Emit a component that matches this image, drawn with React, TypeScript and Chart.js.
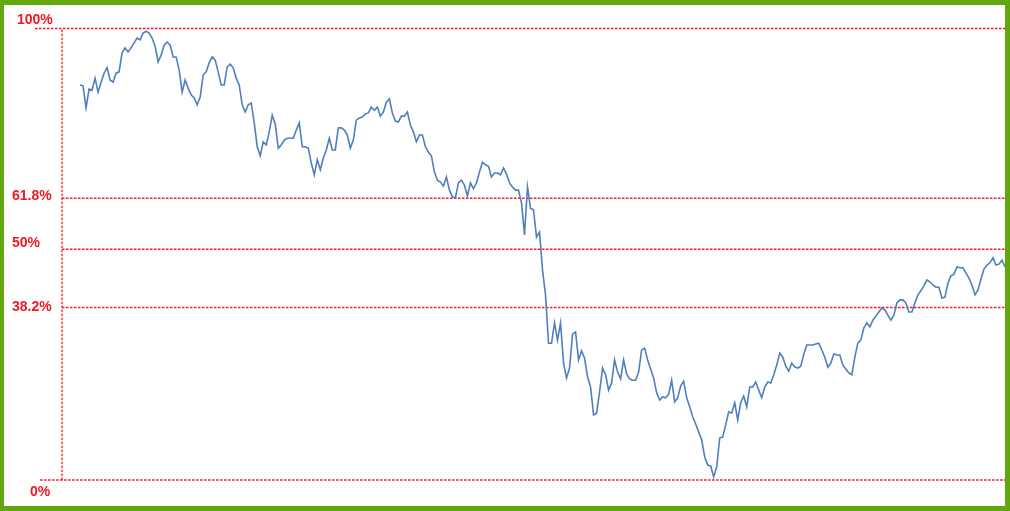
import React, { useEffect, useRef } from "react";
import { Chart, registerables } from "chart.js";

Chart.register(...registerables);

// Price path expressed as % of the high-low range (0% = low, 100% = high)
const rallyToPeak = [
  87.5, 87.3, 82.4, 86.6, 86.4, 89.0, 85.9, 88.1, 90.1, 91.3, 88.6, 88.1, 90.1, 90.4, 94.6, 95.7,
  94.8, 95.7, 96.8, 97.9, 97.5, 99.0, 99.4, 99.0, 97.9, 96.1, 92.6, 94.1, 96.3, 97.0, 96.3, 93.7,
  93.7, 90.8, 85.9, 88.6, 86.8, 85.3, 84.6, 83.1, 84.8, 89.7, 90.4, 92.4, 93.7, 93.0, 90.4, 87.5,
  87.5, 91.5, 92.1, 91.3, 89.0, 87.5, 83.1, 81.5, 83.1, 83.5, 79.1, 73.8, 71.8, 74.9, 74.2, 77.1,
  80.8, 78.8, 73.5, 74.2, 75.3, 75.7, 75.7, 75.7, 77.5, 79.1, 73.8, 73.8, 73.5, 70.2, 67.6, 70.9,
];
const secondTop = [
  68.7, 71.3, 73.1, 75.7, 73.1, 73.1, 78.0, 78.0, 77.5, 76.4, 73.5, 75.3, 79.7, 80.2, 80.4, 81.1,
  81.3, 82.6, 81.9, 82.6, 80.6, 81.5, 83.7, 84.4, 81.3, 79.5, 79.3, 80.6, 80.6, 81.5, 78.6, 77.1,
  74.9, 76.4, 76.4, 73.8, 72.6, 71.8, 68.2, 66.4, 66.0, 65.1, 67.1, 64.2, 62.7, 62.5, 65.8, 66.4,
  65.3, 62.9, 65.8, 64.5, 65.8, 68.2, 70.4, 69.8, 69.5, 67.1, 68.0, 68.0, 67.6, 69.1, 67.8, 65.8,
  64.9, 64.2, 64.2, 61.4, 54.3, 64.9, 60.2, 59.8, 53.8, 54.9,
];
const crashToLow = [
  46.5, 41.0, 30.3, 30.3, 34.8, 31.0, 34.8, 25.9, 22.6, 24.8, 32.3, 32.8, 26.6, 28.6, 27.0, 22.8,
  20.6, 14.4, 14.8, 19.5, 24.8, 23.3, 19.9, 21.5, 26.6, 23.9, 22.4, 26.6, 23.5, 22.4, 22.1, 22.1,
  23.9, 28.8, 29.2, 26.6, 24.6, 22.6, 19.3, 17.7, 18.4, 18.2, 19.0, 22.1, 17.3, 18.2, 20.8, 21.9,
  18.2, 16.2, 14.0, 12.4, 10.6, 8.9, 5.1, 3.3, 3.1, 0.7,
];
const recovery = [
  2.9, 9.3, 9.5, 12.2, 15.1, 14.8, 17.1, 13.3, 17.1, 18.6, 16.2, 20.6, 20.6, 21.7, 19.9, 18.2,
  20.6, 21.7, 21.5, 23.3, 25.5, 28.1, 27.2, 25.2, 24.1, 25.9, 25.0, 24.8, 25.2, 27.9, 29.9, 29.9,
  29.9, 30.1, 30.3, 28.8, 27.2, 25.0, 25.9, 27.9, 27.7, 27.7, 25.5, 24.6, 23.7, 23.3, 27.2, 30.3,
  31.0, 33.7, 34.8, 33.9, 35.4, 36.3, 37.2, 38.1, 37.7, 36.5, 35.4, 36.5, 39.2, 39.9, 39.9, 39.2,
  37.2, 37.2, 39.2, 41.0, 41.9, 43.0, 44.3, 43.9, 43.2, 42.7, 42.7, 40.3, 40.5, 43.6, 45.2, 45.6,
  47.2, 47.0, 47.0, 45.8, 44.7, 43.2, 41.0, 42.1, 44.5, 46.7, 47.6, 48.1, 49.2, 47.6, 47.8, 48.7,
  47.2,
];
const prices = [...rallyToPeak, ...secondTop, ...crashToLow, ...recovery];

// Retracement levels (as drawn) and their labels
const levelValues = [100, 62.4, 51.1, 38.2, 0];
const levelLabels = ["100%", "61.8%", "50%", "38.2%", "0%"];
const levelStarts = [-9, 0, 0, 0, -7.3];
const labelX = [13, 8, 8, 8, 26];
const labelDy = [-8.5, -2, -6, 0, 12];

const firstDay = 6;
const xMin = -9;
const xMax = firstDay + prices.length - 1;

const RED = "#f01822";
const BLUE = "#4f7fbf";
const GREEN = "#63a70f";

export default function App() {
  const ref = useRef<HTMLCanvasElement | null>(null);

  useEffect(() => {
    if (!ref.current) return;

    const levelSets = levelValues.map((v, i) => ({
      label: levelLabels[i],
      data: [
        { x: levelStarts[i], y: v },
        { x: xMax, y: v },
      ],
      borderColor: RED,
      borderWidth: 1.5,
      borderDash: [2.5, 1.5],
      pointRadius: 0,
      fill: false,
      clip: 4,
    }));

    const labelPlugin = {
      id: "levelLabels",
      afterDraw(chart: any) {
        const ctx = chart.ctx;
        const ys = chart.scales.y;
        ctx.save();
        ctx.font = "bold 14px 'Liberation Sans', Arial, sans-serif";
        ctx.fillStyle = RED;
        ctx.textBaseline = "middle";
        ctx.textAlign = "left";
        levelValues.forEach((v, i) => {
          ctx.fillText(levelLabels[i], labelX[i], ys.getPixelForValue(v) + labelDy[i]);
        });
        ctx.restore();
      },
    };

    const chart = new Chart(ref.current, {
      type: "line",
      data: {
        datasets: [
          {
            label: "Price",
            data: prices.map((p, i) => ({ x: firstDay + i, y: p })),
            borderColor: BLUE,
            borderWidth: 1.6,
            pointRadius: 0,
            tension: 0,
            fill: false,
            clip: 4,
          },
          ...levelSets,
          {
            label: "axis",
            data: [
              { x: 0, y: 0 },
              { x: 0, y: 100 },
            ],
            borderColor: RED,
            borderWidth: 1.3,
            borderDash: [2.5, 1.5],
            pointRadius: 0,
            fill: false,
          },
        ],
      },
      options: {
        animation: false,
        responsive: false,
        maintainAspectRatio: false,
        layout: { padding: { left: 31, right: 0, top: 23.5, bottom: 26 } },
        plugins: { legend: { display: false }, tooltip: { enabled: false } },
        scales: {
          x: { type: "linear", min: xMin, max: xMax, display: false },
          y: { type: "linear", min: 0, max: 100, display: false },
        },
      },
      plugins: [labelPlugin],
    });

    return () => chart.destroy();
  }, []);

  return (
    <div
      style={{
        position: "absolute",
        left: 0,
        top: 0,
        width: 1010,
        height: 511,
        boxSizing: "border-box",
        borderStyle: "solid",
        borderColor: GREEN,
        borderWidth: "5px 5px 5px 4px",
        background: "#ffffff",
      }}
    >
      <canvas ref={ref} width={1001} height={501} style={{ display: "block" }} />
    </div>
  );
}
